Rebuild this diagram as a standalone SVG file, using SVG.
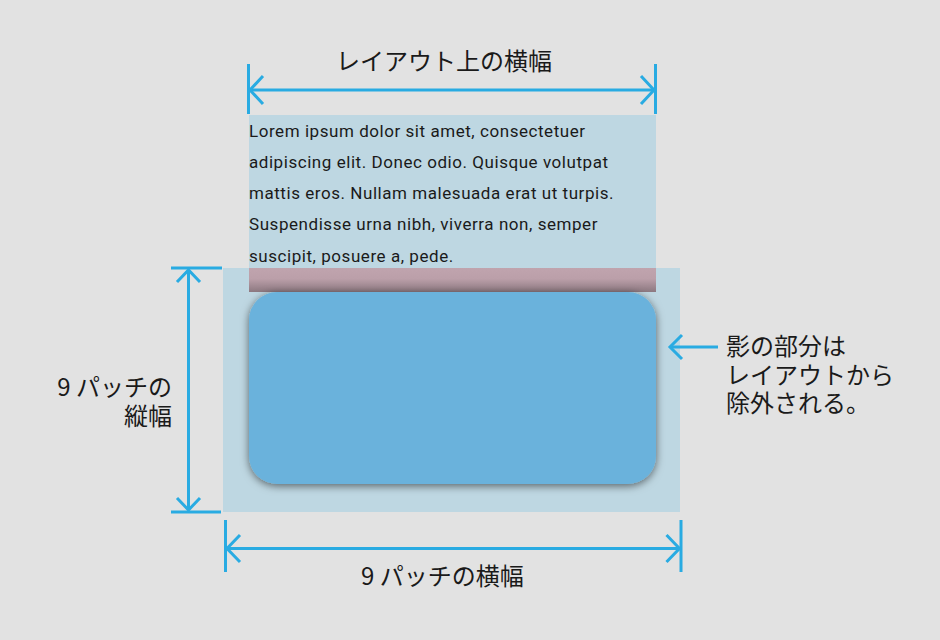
<svg xmlns="http://www.w3.org/2000/svg" width="940" height="640" viewBox="0 0 940 640">
  <defs>
    <style>
      .dim { fill: none; stroke: #29abe2; stroke-width: 3; }
      .jp { font-family: "Noto Sans CJK JP", "Noto Sans", sans-serif; font-size: 24px; fill: #1a1a1a; }
      .lorem { font-family: Roboto, "Liberation Sans", sans-serif; font-size: 17px; letter-spacing: 0.55px; fill: #1a1a1a; }
    </style>
    <linearGradient id="pinkGrad" x1="0" y1="0" x2="0" y2="1">
      <stop offset="0" stop-color="#c0a4ae"/>
      <stop offset="0.45" stop-color="#bb9fa9"/>
      <stop offset="1" stop-color="#8c7880"/>
    </linearGradient>
    <filter id="shadow" x="-10%" y="-15%" width="120%" height="135%">
      <feDropShadow dx="0" dy="2" stdDeviation="4" flood-color="#000" flood-opacity="0.55"/>
    </filter>
  </defs>

  <rect width="940" height="640" fill="#e2e2e2"/>

  <g id="ninepatch-area">
    <rect x="223" y="268" width="457" height="244" fill="#bed7e2"/>
  </g>

  <g id="text-area">
    <rect x="249" y="115" width="407" height="153" fill="#bed7e2"/>
    <rect x="249" y="268" width="407" height="24" fill="url(#pinkGrad)"/>
    <text class="lorem" x="249" y="136.5">Lorem ipsum dolor sit amet, consectetuer</text>
    <text class="lorem" x="249" y="167.5">adipiscing elit. Donec odio. Quisque volutpat</text>
    <text class="lorem" x="249" y="198.5">mattis eros. Nullam malesuada erat ut turpis.</text>
    <text class="lorem" x="249" y="230">Suspendisse urna nibh, viverra non, semper</text>
    <text class="lorem" x="249" y="261.5">suscipit, posuere a, pede.</text>
  </g>

  <g id="button">
    <rect x="249" y="292" width="407" height="192" rx="28" ry="28" fill="#6ab2dc" filter="url(#shadow)"/>
  </g>

  <g id="connectors">
    <g id="dim-layout-width">
      <line class="dim" x1="248.5" y1="64" x2="248.5" y2="114"/>
      <line class="dim" x1="655.5" y1="64" x2="655.5" y2="114"/>
      <line class="dim" x1="250" y1="90" x2="654" y2="90"/>
      <polyline class="dim" points="263,76 250,90 263,104"/>
      <polyline class="dim" points="641,76 654,90 641,104"/>
    </g>
    <g id="dim-9patch-height">
      <line class="dim" x1="171" y1="268" x2="222" y2="268"/>
      <line class="dim" x1="171" y1="512" x2="221" y2="512"/>
      <line class="dim" x1="188.5" y1="270" x2="188.5" y2="510"/>
      <polyline class="dim" points="177,282 188.5,270 200,282"/>
      <polyline class="dim" points="177,498 188.5,510 200,498"/>
    </g>
    <g id="dim-9patch-width">
      <line class="dim" x1="225.5" y1="520" x2="225.5" y2="572"/>
      <line class="dim" x1="681" y1="520" x2="681" y2="572"/>
      <line class="dim" x1="227" y1="548.5" x2="679.5" y2="548.5"/>
      <polyline class="dim" points="240,535 227,548.5 240,562"/>
      <polyline class="dim" points="666.5,535 679.5,548.5 666.5,562"/>
    </g>
    <g id="shadow-pointer">
      <line class="dim" x1="670" y1="347" x2="718" y2="347"/>
      <polyline class="dim" points="682,335 670,347 682,359"/>
    </g>
  </g>

  <g id="labels">
    <text class="jp" x="336" y="70">レイアウト上の横幅</text>
    <text class="jp" x="361" y="585">9 パッチの横幅</text>
    <text class="jp" x="172" y="396" text-anchor="end">9 パッチの</text>
    <text class="jp" x="172" y="425" text-anchor="end">縦幅</text>
    <text class="jp" x="726" y="355">影の部分は</text>
    <text class="jp" x="726" y="383.5">レイアウトから</text>
    <text class="jp" x="726" y="412">除外される。</text>
  </g>
</svg>
